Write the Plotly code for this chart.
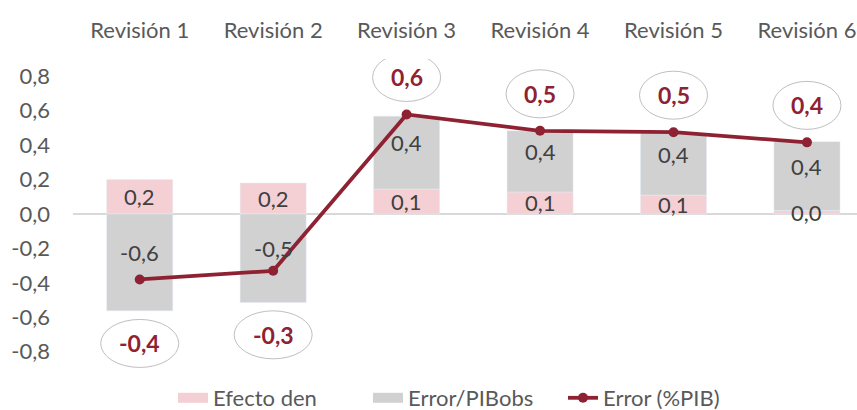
import plotly.graph_objects as go

categories = ["Revisión 1", "Revisión 2", "Revisión 3", "Revisión 4", "Revisión 5", "Revisión 6"]
efecto_den = [0.20, 0.18, 0.145, 0.128, 0.11, 0.02]
error_pibobs = [-0.562, -0.514, 0.423, 0.355, 0.36, 0.40]
error_pib = [-0.38, -0.33, 0.578, 0.483, 0.475, 0.416]
y_ticks = [-0.8, -0.6, -0.4, -0.2, 0.0, 0.2, 0.4, 0.6, 0.8]

def fmt(v):
    s = f"{v:.1f}".replace(".", ",")
    return "0,0" if s == "-0,0" else s

FONT = "Lato"
FS = 22
PINK = "#F4D0D5"
GRAY = "#D0D1D0"
RED = "#8E2233"
TXT = "#595959"
LBL = "#404040"

fig = go.Figure()
fig.add_trace(go.Bar(x=categories, y=efecto_den, name="Efecto den", marker_color=PINK,
                     legendgroup="den", showlegend=False))
fig.add_trace(go.Bar(x=categories, y=error_pibobs, name="Error/PIBobs", marker_color=GRAY,
                     legendgroup="obs", showlegend=False))
# legend entries (wide swatches like the original)
fig.add_trace(go.Scatter(x=[None], y=[None], mode="lines", name="Efecto den",
                         line=dict(color=PINK, width=11), legendgroup="den"))
fig.add_trace(go.Scatter(x=[None], y=[None], mode="lines", name="Error/PIBobs",
                         line=dict(color=GRAY, width=11), legendgroup="obs"))
fig.add_trace(go.Scatter(
    x=categories, y=error_pib, name="Error (%PIB)", mode="lines+markers",
    line=dict(color=RED, width=3.8), marker=dict(color=RED, size=10),
))

# bar value labels (computed from the stacked values)
for c, p, g in zip(categories, efecto_den, error_pibobs):
    fig.add_annotation(x=c, y=p / 2, text=fmt(p), showarrow=False,
                       font=dict(family=FONT, size=FS, color=LBL))
    base = p if g >= 0 else 0
    fig.add_annotation(x=c, y=base + g / 2, yshift=10, text=fmt(g), showarrow=False,
                       font=dict(family=FONT, size=FS, color=LBL))

# error labels in ellipses
for i, (c, v) in enumerate(zip(categories, error_pib)):
    shift = 37 if v >= 0 else -64
    half_w = 34 if v >= 0 else 39
    fig.add_shape(
        type="circle", xref="x", yref="y", xsizemode="pixel", ysizemode="pixel",
        xanchor=i, yanchor=v, x0=-half_w, x1=half_w, y0=shift - 24, y1=shift + 24,
        line=dict(color="#BFBFBF", width=1), fillcolor="rgba(255,255,255,0)",
    )
    fig.add_annotation(
        x=c, y=v, yshift=shift, text=f"<b>{fmt(v)}</b>", showarrow=False,
        font=dict(family=FONT, size=23, color=RED),
    )

fig.update_layout(
    width=857, height=410,
    margin=dict(l=73, r=0, t=59, b=41),
    barmode="relative", bargap=0.505,
    plot_bgcolor="white", paper_bgcolor="white",
    font=dict(family=FONT, size=FS, color=TXT),
    showlegend=True,
    legend=dict(orientation="h", xref="container", x=173 / 857, xanchor="left",
                yref="container", y=12 / 410, yanchor="middle",
                traceorder="normal", entrywidth=150, itemwidth=30,
                font=dict(family=FONT, size=FS, color=TXT)),
)
fig.update_xaxes(
    side="top", range=[-0.5, 5.375], showgrid=False, showline=False, ticks="",
    automargin=False, ticklabelstandoff=16,
    tickfont=dict(family=FONT, size=FS, color=TXT),
)
fig.update_yaxes(
    range=[-0.9, 0.9], tickvals=y_ticks, ticktext=[fmt(v) for v in y_ticks],
    showgrid=False, zeroline=True, zerolinecolor="#D9D9D9", zerolinewidth=1.5,
    showline=False, ticks="", automargin=False, ticklabelstandoff=22,
    tickfont=dict(family=FONT, size=FS, color=TXT),
)

fig.write_html("out.html", config={"displayModeBar": False},
               post_script="document.body.style.margin='0';document.body.style.overflow='hidden';")
